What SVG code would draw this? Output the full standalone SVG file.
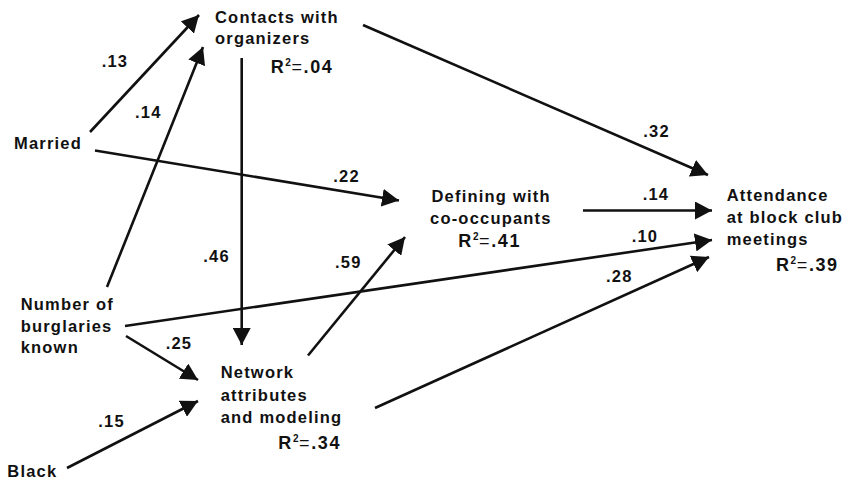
<svg xmlns="http://www.w3.org/2000/svg" width="844" height="482" viewBox="0 0 844 482">
  <style>
    .t { font-family: "Liberation Sans", Arial, Helvetica, sans-serif; font-weight: bold; font-size: 16.5px; letter-spacing: 1.2px; fill: #111; }
    .r2 { font-size: 18px; letter-spacing: 1.6px; }
    .sup { font-size: 10px; letter-spacing: 0.6px; }
    .eq { font-weight: normal; letter-spacing: 1.6px; }
    .edge { stroke: #111; stroke-width: 2.6; fill: none; marker-end: url(#head); }
  </style>
  <defs>
    <marker id="head" markerUnits="userSpaceOnUse" viewBox="0 0 17 18" markerWidth="17" markerHeight="18" refX="17" refY="9" orient="auto">
      <path d="M0,0 L17,9 L0,18 Z" fill="#111"/>
    </marker>
  </defs>
  <rect width="844" height="482" fill="#fff"/>

  <!-- paths between variables -->
  <g id="connectors">
    <line class="edge" x1="90" y1="132" x2="199" y2="15"/>
    <line class="edge" x1="107" y1="287" x2="203" y2="47"/>
    <line class="edge" x1="95" y1="150.5" x2="399" y2="200.5"/>
    <line class="edge" x1="241.7" y1="58" x2="241.7" y2="345"/>
    <line class="edge" x1="363" y1="25" x2="708" y2="175"/>
    <line class="edge" x1="583" y1="210.5" x2="712" y2="210.5"/>
    <line class="edge" x1="125" y1="326" x2="712" y2="240"/>
    <line class="edge" x1="308" y1="355.5" x2="405" y2="237"/>
    <line class="edge" x1="375" y1="408" x2="709" y2="257"/>
    <line class="edge" x1="126" y1="336" x2="198" y2="380"/>
    <line class="edge" x1="67" y1="468" x2="198" y2="401"/>
  </g>

  <!-- path coefficients -->
  <g id="coefficients" class="t">
    <text x="101.7" y="66.7">.13</text>
    <text x="135" y="118.3">.14</text>
    <text x="333.3" y="181.7">.22</text>
    <text x="643.3" y="136.7">.32</text>
    <text x="642.7" y="200">.14</text>
    <text x="631.7" y="241.7">.10</text>
    <text x="203.3" y="262.3">.46</text>
    <text x="335" y="268">.59</text>
    <text x="606" y="281.7">.28</text>
    <text x="165.7" y="349.3">.25</text>
    <text x="98.3" y="426.7">.15</text>
  </g>

  <g id="contacts" class="t">
    <text x="215" y="22.7">Contacts with</text>
    <text x="215" y="43.5">organizers</text>
    <text class="r2" x="270.7" y="72.7">R<tspan class="sup" dy="-7">2</tspan><tspan class="eq" dy="7">=</tspan>.04</text>
  </g>

  <g id="married" class="t">
    <text x="14" y="149">Married</text>
  </g>

  <g id="defining" class="t">
    <text x="431.5" y="202">Defining with</text>
    <text x="430" y="224">co-occupants</text>
    <text class="r2" x="458.3" y="247">R<tspan class="sup" dy="-7">2</tspan><tspan class="eq" dy="7">=</tspan>.41</text>
  </g>

  <g id="attendance" class="t">
    <text x="726.7" y="200.7">Attendance</text>
    <text x="726.7" y="223">at block club</text>
    <text x="726.7" y="245">meetings</text>
    <text class="r2" x="776" y="270.7">R<tspan class="sup" dy="-7">2</tspan><tspan class="eq" dy="7">=</tspan>.39</text>
  </g>

  <g id="burglaries" class="t">
    <text x="20.7" y="310">Number of</text>
    <text x="20.7" y="331.7">burglaries</text>
    <text x="20.7" y="352.7">known</text>
  </g>

  <g id="network" class="t">
    <text x="220.7" y="378.3">Network</text>
    <text x="220.7" y="400.5">attributes</text>
    <text x="220.7" y="422.7">and modeling</text>
    <text class="r2" x="278.3" y="449.3">R<tspan class="sup" dy="-7">2</tspan><tspan class="eq" dy="7">=</tspan>.34</text>
  </g>

  <g id="black" class="t">
    <text x="7.3" y="476.7">Black</text>
  </g>
</svg>
